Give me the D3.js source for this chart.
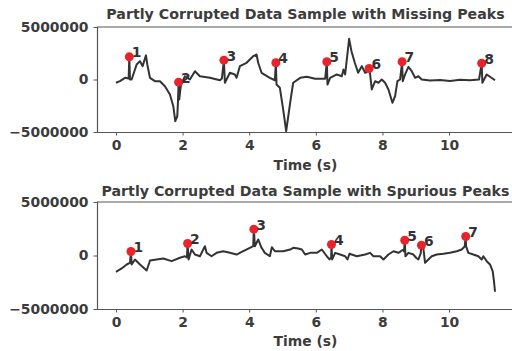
<!DOCTYPE html>
<html>
<head>
<meta charset="utf-8">
<script src="https://cdn.jsdelivr.net/npm/d3@7"></script>
<style>
  body { margin: 0; background: #fff; }
  svg { display: block; font-family: "DejaVu Sans", sans-serif; font-weight: bold; }
</style>
</head>
<body>
<svg id="chart" width="512" height="351"></svg>
<script>
// values in millions, time in seconds
const missingTime = [0.00, 0.12, 0.27, 0.38, 0.40, 0.42, 0.47, 0.62, 0.72, 0.80, 0.90, 0.94, 1.02, 1.17, 1.32, 1.47, 1.62, 1.72, 1.78, 1.84, 1.86, 1.88, 1.90, 1.95,
  2.07, 2.22, 2.37, 2.52, 2.82, 3.12, 3.18, 3.24, 3.27, 3.42, 3.57, 3.62, 3.72, 3.92, 4.12, 4.22, 4.27, 4.37, 4.62, 4.77, 4.80, 4.82, 4.92, 5.02, 5.11, 5.23,
  5.32, 5.53, 5.73, 5.98, 6.28, 6.33, 6.35, 6.43, 6.63, 6.78, 6.83, 6.88, 7.00, 7.07, 7.17, 7.27, 7.38, 7.48, 7.56, 7.60, 7.63, 7.68, 7.78, 7.88, 7.98, 8.08,
  8.18, 8.30, 8.38, 8.45, 8.53, 8.59, 8.61, 8.68, 8.78, 8.88, 8.98, 9.08, 9.18, 9.43, 9.73, 10.03, 10.33, 10.63, 10.90, 10.98, 11.00, 11.13, 11.23, 11.38];
const missingValue = [-0.31, -0.15, 0.16, 0.10, 2.16, 0.00, 0.00, 1.43, 1.75, 1.27, 2.30, 1.43, 0.16, -0.16, -0.16, -0.64, -1.43, -2.54, -3.97, -3.50, -2.20, -0.25, -1.90, -0.50,
  0.31, 0.00, 0.79, 0.31, 0.16, -0.07, 0.10, 1.84, -0.31, 0.64, 0.48, 0.16, 1.27, 1.59, 2.22, 2.38, 1.59, 0.64, 0.16, -0.07, 1.59, -0.48, -0.79, -2.86, -4.92, -2.20,
  -0.31, 0.16, 0.26, 0.07, 0.07, 1.69, -0.48, 0.16, 0.48, 0.31, 0.95, 0.48, 3.87, 2.70, 1.59, 0.64, 1.27, 0.64, 0.80, 1.05, 0.48, -0.95, -0.16, -0.31, 0.00, -0.31,
  -0.95, -2.22, -1.59, -0.16, 0.00, 1.69, -0.16, 0.48, 1.21, 0.79, 0.16, 0.31, 0.00, -0.10, -0.05, -0.14, -0.03, -0.08, 0.00, 1.55, -0.31, 0.48, 0.26, -0.07];
const missingPeakTime = [0.40, 1.88, 3.24, 4.80, 6.33, 7.60, 8.59, 10.98];
const missingPeakValue = [2.16, -0.25, 1.84, 1.59, 1.69, 1.05, 1.69, 1.55];

const spuriousTime = [0.00, 0.17, 0.32, 0.42, 0.45, 0.47, 0.57, 0.72, 0.92, 1.00, 1.02, 1.22, 1.42, 1.67, 1.92, 2.07, 2.13, 2.15, 2.18, 2.27, 2.37, 2.52, 2.67, 2.72,
  2.87, 3.02, 3.22, 3.42, 3.62, 3.82, 4.02, 4.12, 4.14, 4.17, 4.27, 4.37, 4.47, 4.62, 4.68, 4.77, 5.02, 5.23, 5.32, 5.47, 5.58, 5.68, 5.83, 6.03, 6.18, 6.33,
  6.41, 6.46, 6.47, 6.49, 6.58, 6.73, 6.88, 6.95, 7.01, 7.23, 7.48, 7.63, 7.73, 7.93, 8.03, 8.18, 8.33, 8.48, 8.63, 8.65, 8.67, 8.69, 8.78, 8.93, 9.01, 9.08,
  9.15, 9.17, 9.23, 9.28, 9.38, 9.48, 9.63, 9.83, 10.03, 10.23, 10.38, 10.47, 10.50, 10.51, 10.58, 10.73, 10.88, 10.98, 11.03, 11.13, 11.23, 11.31, 11.35, 11.38];
const spuriousValue = [-1.52, -1.21, -0.84, -0.68, 0.37, -0.84, -0.37, -0.84, -1.40, -0.68, -0.47, -0.37, -0.28, -0.53, -0.21, -0.07, -0.19, 1.12, -0.37, 0.56, 0.09, -0.07, 0.87, 0.25,
  -0.07, 0.25, 0.40, 0.25, 0.09, 0.40, 0.72, 0.87, 2.46, 0.87, 1.50, 0.72, 0.25, -0.07, 0.78, 0.40, 0.40, 0.56, 0.72, 0.65, 0.56, 0.09, 0.25, 0.25, 0.56, -0.07,
  -0.37, -0.19, 1.03, -0.37, 0.25, 0.09, -0.07, -0.37, 0.16, -0.07, 0.09, 0.25, -0.07, -0.07, -0.37, 0.09, 0.40, 0.25, 0.56, 0.37, 1.43, -0.07, 0.25, 0.09, -0.21, -0.37,
  0.20, 0.96, 0.65, -0.68, -0.37, -0.07, 0.09, 0.16, 0.25, 0.40, 0.56, 0.84, 1.78, 0.87, 0.25, 0.09, -0.07, -0.37, -0.07, -0.53, -0.84, -1.47, -2.43, -3.39];
const spuriousPeakTime = [0.45, 2.15, 4.14, 6.47, 8.67, 9.17, 10.50];
const spuriousPeakValue = [0.37, 1.12, 2.46, 1.03, 1.43, 0.96, 1.78];

const xTicks = [0, 2, 4, 6, 8, 10];
const yTicks = [-5000000, 0, 5000000];

const panels = [
  { title: 'Partly Corrupted Data Sample with Missing Peaks', time: missingTime, value: missingValue,
    peakTime: missingPeakTime, peakValue: missingPeakValue, top: 27, bottom: 132, titleY: 19, xLabelY: 170 },
  { title: 'Partly Corrupted Data Sample with Spurious Peaks', time: spuriousTime, value: spuriousValue,
    peakTime: spuriousPeakTime, peakValue: spuriousPeakValue, top: 202, bottom: 309, titleY: 196, xLabelY: 346 }
];

const svg = d3.select('#chart');
const left = 97, right = 514;
const textColor = '#3c3c3c';

panels.forEach((p) => {
  const x = d3.scaleLinear().domain([-0.57, 11.95]).range([left, right]);
  const y = d3.scaleLinear().domain([-5000000, 5000000]).range([p.bottom, p.top]);
  const g = svg.append('g');

  // top spine
  g.append('line').attr('x1', left).attr('x2', right).attr('y1', p.top).attr('y2', p.top)
    .attr('stroke', '#555').attr('stroke-width', 1);

  const xAxis = g.append('g')
    .attr('transform', `translate(0,${p.bottom})`)
    .call(d3.axisBottom(x).tickValues(xTicks).tickSize(3.5).tickPadding(5).tickFormat(d3.format('d')));
  const yAxis = g.append('g')
    .attr('transform', `translate(${left},0)`)
    .call(d3.axisLeft(y).tickValues(yTicks).tickSize(3.5).tickPadding(5)
      .tickFormat((d) => (d < 0 ? '\u2212' + Math.abs(d) : String(d))));

  [xAxis, yAxis].forEach((a) => {
    a.select('.domain').attr('stroke', '#555').attr('stroke-width', 1.2);
    a.selectAll('line').attr('stroke', '#555').attr('stroke-width', 1);
    a.selectAll('text')
      .attr('fill', textColor)
      .attr('font-family', '"DejaVu Sans", sans-serif')
      .attr('font-weight', 'bold')
      .attr('font-size', '13.9px');
  });
  xAxis.select('.domain').attr('d', `M${left},0.5H${right}`);
  yAxis.select('.domain').attr('d', `M0.5,${p.top}V${p.bottom}`);

  // title and axis label
  g.append('text').attr('x', (left + right) / 2).attr('y', p.titleY)
    .attr('text-anchor', 'middle').attr('font-size', '14.2px').attr('fill', textColor)
    .text(p.title);
  g.append('text').attr('x', (left + right) / 2).attr('y', p.xLabelY)
    .attr('text-anchor', 'middle').attr('font-size', '13.9px').attr('fill', textColor)
    .text('Time (s)');

  // signal
  const line = d3.line()
    .x((d, i) => x(p.time[i]))
    .y((d) => y(d * 1e6));
  g.append('path')
    .attr('d', line(p.value))
    .attr('fill', 'none')
    .attr('stroke', '#333')
    .attr('stroke-width', 2)
    .attr('stroke-linejoin', 'round');

  // detected peaks
  const peaks = p.peakTime.map((t, i) => ({ t, v: p.peakValue[i] * 1e6, n: i + 1 }));
  g.selectAll('.peak').data(peaks).enter().append('circle')
    .attr('cx', (d) => x(d.t))
    .attr('cy', (d) => y(d.v))
    .attr('r', 4.5)
    .attr('fill', '#e8232b');
  g.selectAll('.peaklabel').data(peaks).enter().append('text')
    .attr('x', (d) => x(d.t) + 2.5)
    .attr('y', (d) => y(d.v) + 0.5)
    .attr('font-size', '13.9px')
    .attr('fill', '#333')
    .text((d) => d.n);
});
</script>
</body>
</html>
